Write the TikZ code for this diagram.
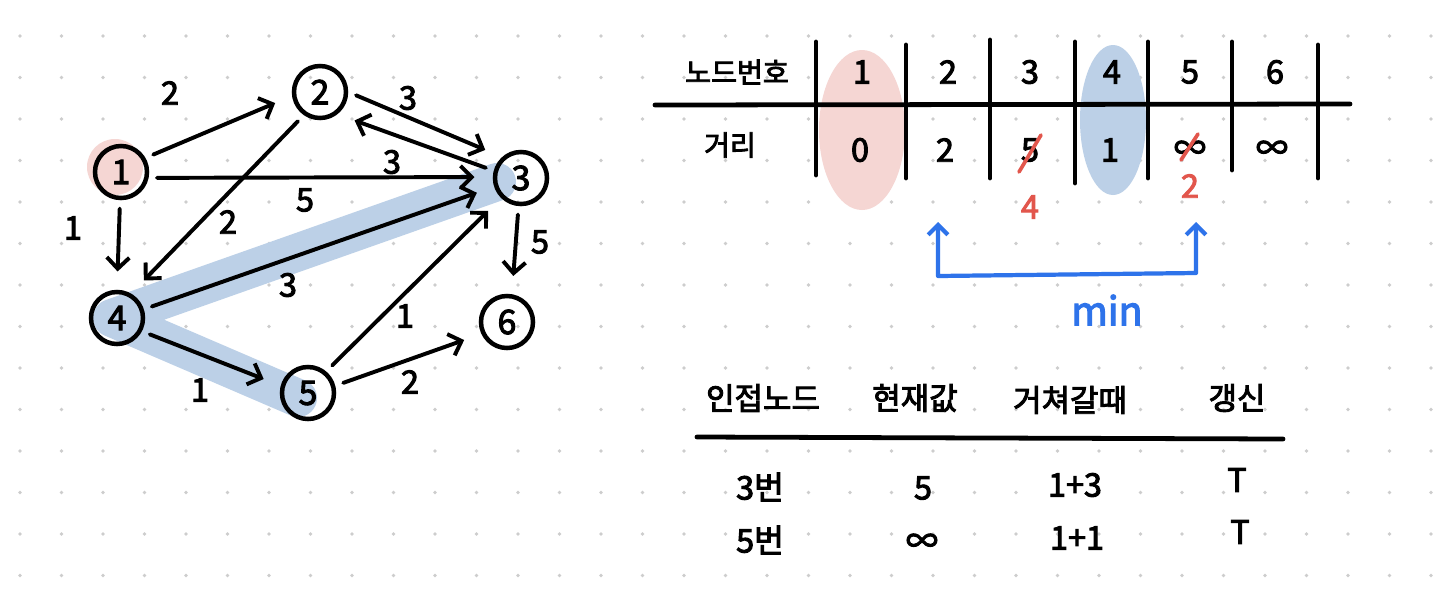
\documentclass[tikz,border=0pt]{standalone}
\usepackage{fontspec}
\setmainfont{Noto Sans CJK KR}[FakeBold=3]
\usetikzlibrary{arrows.meta}
\definecolor{startpink}{HTML}{F5D6D3}
\definecolor{pathblue}{HTML}{BCD0E7}
\definecolor{fixred}{HTML}{E2564C}
\definecolor{minblue}{HTML}{2E73EA}
\definecolor{dotgray}{HTML}{CDCDCD}

\begin{document}
\begin{tikzpicture}[x=0.025cm,y=-0.025cm,
	vertex/.style={draw,circle,line width=3.2pt,minimum size=1.3cm,inner sep=0pt,font=\fontsize{24}{24}\selectfont},
	edge/.style={line width=2.8pt,line cap=round,line join=round,
		-{Straight Barb[length=8pt,width=16pt,line width=2.8pt]},shorten >=13pt,shorten <=6pt},
	weight/.style={font=\fontsize{23}{23}\selectfont},
	cell/.style={font=\fontsize{23}{23}\selectfont},
	kor/.style={font=\fontsize{20}{20}\selectfont},
	rule/.style={line width=3.4pt,line cap=round},
	fix/.style={fixred,line width=2.6pt,line cap=round},
	minline/.style={minblue,line width=3pt,line cap=round,line join=round,
		{Straight Barb[length=7pt,width=14pt,line width=3pt]}-{Straight Barb[length=7pt,width=14pt,line width=3pt]}}]
	\useasboundingbox (0,0) rectangle (1440,601);
	\fill[white] (0,0) rectangle (1440,601);
	\foreach \i in {0,...,34}{
		\foreach \j in {0,...,13}{
			\fill[dotgray] (20+41.5*\i,36+41.5*\j) circle (1.8);
		}
	}

	% graph
	\draw[pathblue,line width=0.95cm,line cap=round,line join=round] (497,182) -- (112,318) -- (298,398);
	\fill[startpink] (115,167) circle (28);
	\node[vertex] (n1) at (121,172) {1};
	\node[vertex] (n2) at (320,92) {2};
	\node[vertex] (n3) at (521,178) {3};
	\node[vertex] (n4) at (117,318) {4};
	\node[vertex] (n5) at (308,393) {5};
	\node[vertex] (n6) at (507,322) {6};
	\draw[edge] (n1.30) -- (n2.188);
	\draw[edge] (n1.-12) -- (n3.178);
	\draw[edge] (n1.-92) -- (n4.90);
	\draw[edge] (n2.-125) -- (n4.60);
	\draw[edge] (n2.0) -- (n3.132);
	\draw[edge] (n3.165) -- (n2.-52);
	\draw[edge] (n3.-95) -- (n6.80);
	\draw[edge] (n4.18) -- (n3.-162);
	\draw[edge] (n4.-28) -- (n5.165);
	\draw[edge] (n5.50) -- (n3.-135);
	\draw[edge] (n5.15) -- (n6.-155);
	\node[weight] (w12) at (170,93) {2};
	\node[weight] (w13) at (305,200) {5};
	\node[weight] (w14) at (73,228) {1};
	\node[weight] (w24) at (228,222) {2};
	\node[weight] (w23) at (408,98) {3};
	\node[weight] (w32) at (392,162) {3};
	\node[weight] (w36) at (540,242) {5};
	\node[weight] (w43) at (288,285) {3};
	\node[weight] (w45) at (200,390) {1};
	\node[weight] (w53) at (405,316) {1};
	\node[weight] (w56) at (410,382) {2};

	% distance table
	\fill[startpink] (862,130) ellipse [x radius=43,y radius=80];
	\fill[pathblue] (1113,120) ellipse [x radius=33,y radius=75];
	\draw[rule] (655,105) -- (1350,104);
	\foreach \x/\t/\b in {816/42/175,906/45/178,990/40/178,1075/42/183,1148/42/178,1232/42/170,1318/45/178}{
		\draw[rule] (\x,\t) -- (\x,\b);
	}
	\node[kor] (hdnum) at (737,72) {노드번호};
	\node[kor] (hddist) at (730,145) {거리};
	\foreach \i/\x in {1/862,2/948,3/1030,4/1112,5/1190,6/1275}{
		\node[cell] (col\i) at (\x,72) {\i};
	}
	\foreach \i/\x/\d in {1/860/0,2/945/2,3/1030/5,4/1110/1,5/1190/∞,6/1272/∞}{
		\node[cell] (dist\i) at (\x,150) {\d};
	}
	\draw[fix] (1019,172) -- (1041,135);
	\draw[fix] (1181,160) -- (1198,134);
	\node[cell,text=fixred] (new3) at (1030,207) {4};
	\node[cell,text=fixred] (new5) at (1190,186) {2};

	\coordinate (c2) at (938,222);
	\coordinate (c5) at (1196,222);
	\draw[minline] (c2) -- (938,276) -- (1196,273) -- (c5);
	\node[font=\fontsize{28}{28}\selectfont,text=minblue] (minlbl) at (1107,310) {min};

	% adjacent table
	\node[kor,font=\fontsize{22}{22}\selectfont] (hdadj) at (763,398) {인접노드};
	\node[kor,font=\fontsize{22}{22}\selectfont] (hdnow) at (915,398) {현재값};
	\node[kor,font=\fontsize{22}{22}\selectfont] (hdvia) at (1070,400) {거쳐갈때};
	\node[kor,font=\fontsize{22}{22}\selectfont] (hdupd) at (1237,398) {갱신};
	\draw[rule] (697,437) -- (1283,439);
	\node[cell] (adj3) at (760,487) {3번};
	\node[cell] (now3) at (923,488) {5};
	\node[cell] (via3) at (1075,485) {1+3};
	\node[cell] (upd3) at (1237,480) {T};
	\node[cell] (adj5) at (760,540) {5번};
	\node[cell] (now5) at (922,543) {∞};
	\node[cell] (via5) at (1077,538) {1+1};
	\node[cell] (upd5) at (1240,532) {T};
\end{tikzpicture}
\end{document}
